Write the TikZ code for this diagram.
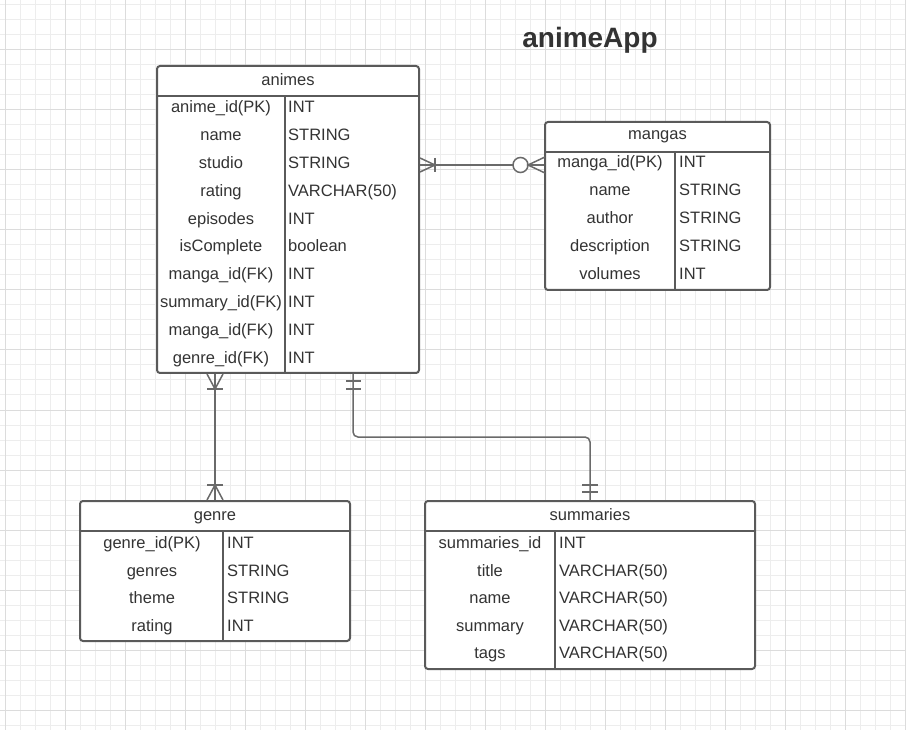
\documentclass[tikz,border=0pt]{standalone}
\usepackage{fontspec}
\setmainfont{Liberation Sans}
\definecolor{gridminor}{HTML}{EDEDED}
\definecolor{gridmajor}{HTML}{DCDCDC}
\definecolor{boxline}{HTML}{5A5A5A}
\definecolor{connline}{HTML}{6A6A6A}
\definecolor{txt}{HTML}{333333}
\begin{document}
\begin{tikzpicture}[x=1pt,y=-1pt,
 tbl/.style={draw=boxline, line width=2pt, fill=white, rounded corners=3pt, inner sep=0pt},
 sepline/.style={draw=boxline, line width=1.6pt},
 conn/.style={draw=connline, line width=1.5pt},
 cell/.style={font=\fontsize{16.5}{18}\selectfont, text=txt, inner sep=0pt, anchor=center, text height=11.8pt, text depth=0pt},
 tcell/.style={cell, anchor=west},
 ttl/.style={font=\fontsize{28}{32}\bfseries\selectfont, text=txt, inner sep=0pt},
]
\useasboundingbox (0,0) rectangle (906,730);
\fill[white] (0,0) rectangle (906,730);
\foreach \x in {5,20,...,905} \draw[gridminor, line width=1pt] (\x,0) -- (\x,730);
\foreach \y in {5,20,...,725} \draw[gridminor, line width=1pt] (0,\y) -- (906,\y);
\foreach \x in {5,65,...,905} \draw[gridmajor, line width=1pt] (\x,0) -- (\x,730);
\foreach \y in {-10,50,...,725} \draw[gridmajor, line width=1pt] (0,\y) -- (906,\y);

\node[ttl] (title) at (590,40) {animeApp};

% animes
\node[tbl, minimum width=262, minimum height=307] (animes) at (288,219.5) {};
\draw[sepline] (157,96) -- (419,96);
\draw[sepline] (285,96) -- (285,373);
\node[cell] (animesT) at (288,80) {animes};
\foreach \n/\t [count=\i] in {anime\_id(PK)/INT, name/STRING, studio/STRING, rating/VARCHAR(50), episodes/INT, isComplete/boolean, manga\_id(FK)/INT, summary\_id(FK)/INT, manga\_id(FK)/INT, genre\_id(FK)/INT}{
  \node[cell] (animesN\i) at (221,{107+27.8*(\i-1)}) {\n};
  \node[tcell] (animesV\i) at (288,{107+27.8*(\i-1)}) {\t};
}

% mangas
\node[tbl, minimum width=225, minimum height=168] (mangas) at (657.5,206) {};
\draw[sepline] (545,152) -- (770,152);
\draw[sepline] (675,152) -- (675,290);
\node[cell] (mangasT) at (657.5,134) {mangas};
\foreach \n/\t [count=\i] in {manga\_id(PK)/INT, name/STRING, author/STRING, description/STRING, volumes/INT}{
  \node[cell] (mangasN\i) at (610,{162+27.8*(\i-1)}) {\n};
  \node[tcell] (mangasV\i) at (679,{162+27.8*(\i-1)}) {\t};
}

% genre
\node[tbl, minimum width=270, minimum height=140] (genre) at (215,571) {};
\draw[sepline] (80,531) -- (350,531);
\draw[sepline] (223,531) -- (223,641);
\node[cell] (genreT) at (215,515) {genre};
\foreach \n/\t [count=\i] in {genre\_id(PK)/INT, genres/STRING, theme/STRING, rating/INT}{
  \node[cell] (genreN\i) at (152,{543+27.4*(\i-1)}) {\n};
  \node[tcell] (genreV\i) at (227,{543+27.4*(\i-1)}) {\t};
}

% summaries
\node[tbl, minimum width=330, minimum height=168] (summaries) at (590,585) {};
\draw[sepline] (425,531) -- (755,531);
\draw[sepline] (555,531) -- (555,669);
\node[cell] (summariesT) at (590,515) {summaries};
\foreach \n/\t [count=\i] in {summaries\_id/INT, title/VARCHAR(50), name/VARCHAR(50), summary/VARCHAR(50), tags/VARCHAR(50)}{
  \node[cell] (summariesN\i) at (490,{543+27.5*(\i-1)}) {\n};
  \node[tcell] (summariesV\i) at (559,{543+27.5*(\i-1)}) {\t};
}

% connector animes - mangas
\draw[conn] ([yshift=54.5pt]animes.east) -- ([yshift=54.5pt]animes.east -| mangas.west);
\draw[conn] (420,158) -- (435,165) -- (420,172);
\draw[conn] (435,158) -- (435,172);
\draw[conn, fill=white] (520.5,165) circle (7.5);
\draw[conn] (545,157) -- (528,165) -- (545,173);

% connector animes - genre
\draw[conn] (animes.south -| genre.north) -- (genre.north);
\draw[conn] (207,374) -- (215,389) -- (223,374);
\draw[conn] (207,389) -- (223,389);
\draw[conn] (207,500) -- (215,485) -- (223,500);
\draw[conn] (207,485) -- (223,485);

% connector animes - summaries
\draw[conn, rounded corners=5pt] ([xshift=65pt]animes.south) -- ++(0,63) -| (summaries.north);
\draw[conn] (346,381) -- (361,381);
\draw[conn] (346,389) -- (361,389);
\draw[conn] (582,485) -- (598,485);
\draw[conn] (582,492) -- (598,492);
\end{tikzpicture}
\end{document}
